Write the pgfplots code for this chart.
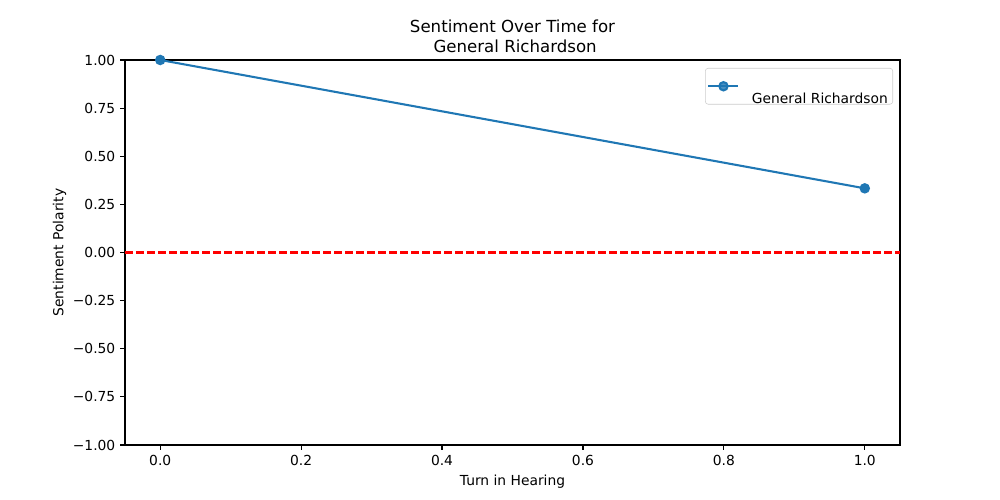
\documentclass[border=0pt]{standalone}
\usepackage{fontspec}
\setmainfont{DejaVu Sans}
\usepackage{pgfplots}
\pgfplotsset{compat=1.18}
\definecolor{mplblue}{HTML}{1F77B4}
\begin{document}
\fontsize{10pt}{12pt}\selectfont
\begin{tikzpicture}
\path[use as bounding box] (0,0) rectangle (10in,5in);
\begin{axis}[
  at={(1.25in,0.55in)}, anchor=south west,
  scale only axis, width=7.75in, height=3.85in,
  xmin=-0.05, xmax=1.05, ymin=-1, ymax=1,
  xtick={0,0.2,0.4,0.6,0.8,1.0},
  xticklabels={0.0,0.2,0.4,0.6,0.8,1.0},
  ytick={-1,-0.75,-0.5,-0.25,0,0.25,0.5,0.75,1},
  yticklabels={−1.00,−0.75,−0.50,−0.25,0.00,0.25,0.50,0.75,1.00},
  tick align=outside, major tick length=3.5pt,
  tick style={black, line width=0.8pt},
  axis line style={line width=0.8pt},
  xtick pos=bottom, ytick pos=left,
  ticklabel style={font=\fontsize{10pt}{12pt}\selectfont},
  xlabel={Turn in Hearing}, ylabel={Sentiment Polarity},
  label style={font=\fontsize{10pt}{12pt}\selectfont},
  ylabel style={yshift=-2pt},
  title={Sentiment Over Time for\\ \ General Richardson},
  title style={font=\fontsize{12pt}{14.4pt}\selectfont, align=center, yshift=-4.2pt},
  legend style={at={(1,1)}, anchor=north east, xshift=-0.07in, yshift=-0.08in,
    draw=black!20, rounded corners=2pt, fill=white, fill opacity=0.8, text opacity=1,
    font=\fontsize{10pt}{12pt}\selectfont, inner xsep=1.5pt, inner ysep=3pt},
  legend cell align=left,
]
\addplot[mplblue, line width=1.5pt, mark=*, mark size=3pt, mark options={solid, fill=mplblue, draw=mplblue},
  legend image code/.code={
    \draw[mplblue, line width=1.5pt] (0,0) -- (0.30in,0);
    \fill[mplblue] (0.15in,0) circle (3pt);
  }]
  coordinates {(0,1.0) (1,0.3333)};
\addlegendentry{\begin{tabular}{@{}l@{}}\mbox{}\\[0pt] \hspace{7pt}General Richardson\end{tabular}}
\addplot[red, line width=1.5pt, dash pattern=on 5.55pt off 2.4pt, forget plot] coordinates {(-0.05,0) (1.05,0)};
\end{axis}
\end{tikzpicture}
\end{document}
